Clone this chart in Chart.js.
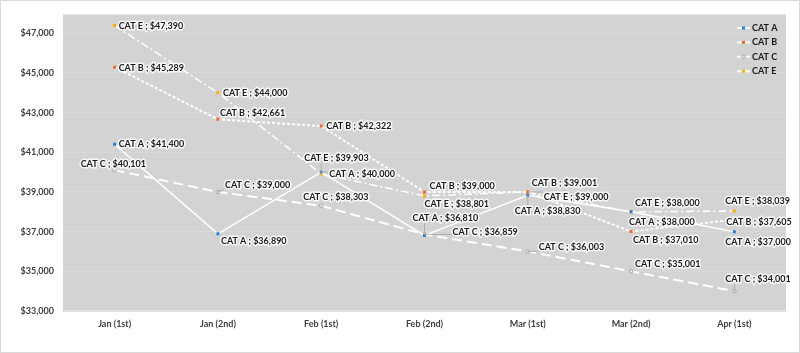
<!DOCTYPE html>
<html lang="en">
<head>
<meta charset="UTF-8">
<title>CAT trend</title>
<script src="https://cdn.jsdelivr.net/npm/chart.js"></script>
<style>
    html, body { margin: 0; padding: 0; background: #fff; }
    canvas { display: block; }
</style>
</head>
<body>
<canvas id="myChart" width="800" height="353"></canvas>
<script>
    // data
    const periods = ['Jan (1st)', 'Jan (2nd)', 'Feb (1st)', 'Feb (2nd)', 'Mar (1st)', 'Mar (2nd)', 'Apr (1st)'];
    const seriesNames = ['CAT A', 'CAT B', 'CAT C', 'CAT E'];
    const catA = [41400, 36890, 40000, 36810, 38830, 38000, 37000];
    const catB = [45289, 42661, 42322, 39000, 39001, 37010, 37605];
    const catC = [40101, 39000, 38303, 36859, 36003, 35001, 34001];
    const catE = [47390, 44000, 39903, 38801, 39000, 38000, 38039];
    const yTicks = [33000, 35000, 37000, 39000, 41000, 43000, 45000, 47000];

    // where each data label sits relative to its point: [dx to label left, dy to label middle]
    const labelOffsets = [
        [[4, 0], [3, 7], [8, 2], [-12, -17], [-13, 16], [-2, 10], [-9, 10]],
        [[4, 1], [2, -6], [5, 0], [5, -6], [4, -9], [2, 9], [-8, 2]],
        [[-34, -6], [7, -7], [-18, -9], [28, -2], [11, -4], [4, -7], [-9, -12]],
        [[4, 1], [5, 0], [-17, -16], [0, 8], [16, 5], [4, -9], [-9, -10]]
    ];

    const fmt = v => '$' + v.toLocaleString('en-US');
    const FONT = 'Lato, "Open Sans", sans-serif';

    const bgPlugin = {
        id: 'bg',
        beforeDraw(chart) {
            const ctx = chart.ctx, a = chart.chartArea;
            ctx.save();
            ctx.fillStyle = '#fff';
            ctx.fillRect(0, 0, chart.width, chart.height);
            ctx.strokeStyle = '#d9d9d9';
            ctx.lineWidth = 1;
            ctx.strokeRect(0.5, 0.5, chart.width - 1, chart.height - 1);
            ctx.fillStyle = '#d3d3d3';
            ctx.fillRect(a.left, a.top, a.right - a.left, a.bottom - a.top);
            ctx.restore();
        }
    };

    const labelPlugin = {
        id: 'pointLabels',
        afterDatasetsDraw(chart) {
            const ctx = chart.ctx;
            ctx.save();
            ctx.font = 'bold 9px ' + FONT;
            ctx.textBaseline = 'middle';
            const items = [];
            chart.data.datasets.forEach((ds, i) => {
                chart.getDatasetMeta(i).data.forEach((pt, j) => {
                    const text = ds.label + ' ; ' + fmt(ds.data[j]);
                    const w = ctx.measureText(text).width;
                    const [dx, dy] = labelOffsets[i][j];
                    items.push({ px: pt.x, py: pt.y, x: pt.x + dx, y: pt.y + dy, w, text });
                });
            });
            // leader lines
            ctx.strokeStyle = '#a6a6a6';
            ctx.lineWidth = 0.8;
            items.forEach(it => {
                const nx = Math.min(Math.max(it.px, it.x - 1), it.x + it.w + 1);
                const ny = Math.min(Math.max(it.py, it.y - 5), it.y + 5);
                if (Math.hypot(nx - it.px, ny - it.py) > 6) {
                    ctx.beginPath();
                    ctx.moveTo(it.px, it.py);
                    ctx.lineTo(nx, ny);
                    ctx.stroke();
                }
            });
            items.forEach(it => {
                ctx.lineJoin = 'round';
                ctx.lineWidth = 3;
                ctx.strokeStyle = 'rgba(255,255,255,0.85)';
                ctx.strokeText(it.text, it.x, it.y);
                ctx.fillStyle = '#1a1a1a';
                ctx.fillText(it.text, it.x, it.y);
            });
            ctx.restore();
        }
    };

    const legendPlugin = {
        id: 'sideLegend',
        afterDraw(chart) {
            const ctx = chart.ctx;
            ctx.save();
            ctx.font = 'bold 9px ' + FONT;
            ctx.textBaseline = 'middle';
            chart.data.datasets.forEach((ds, i) => {
                const y = 28 + i * 14.4;
                ctx.strokeStyle = '#fff';
                ctx.lineWidth = 2;
                ctx.setLineDash([]);
                ctx.beginPath();
                ctx.moveTo(737, y);
                ctx.lineTo(750, y);
                ctx.stroke();
                ctx.fillStyle = ds.pointBackgroundColor;
                ctx.strokeStyle = ds.pointBorderColor;
                ctx.lineWidth = ds.pointBorderWidth;
                ctx.beginPath();
                if (ds.pointStyle === 'circle') {
                    ctx.arc(743.5, y, 1.8, 0, Math.PI * 2);
                } else {
                    ctx.rect(742, y - 1.5, 3, 3);
                }
                ctx.fill();
                if (ds.pointBorderWidth) ctx.stroke();
                ctx.fillStyle = '#1a1a1a';
                ctx.fillText(ds.label, 752, y);
            });
            ctx.restore();
        }
    };

    const lineDs = (name, values, color, dash, width, style) => ({
        label: name,
        data: values,
        borderColor: '#ffffff',
        borderWidth: width,
        borderDash: dash,
        pointStyle: style,
        pointRadius: style === 'circle' ? 1.8 : 2.1,
        pointBackgroundColor: color,
        pointBorderColor: style === 'circle' ? '#9a9a9a' : color,
        pointBorderWidth: style === 'circle' ? 0.8 : 0,
        tension: 0,
        fill: false
    });

    const data = {
        labels: periods,
        datasets: [
            lineDs(seriesNames[0], catA, '#2a7bd6', [], 1.5, 'rect'),
            lineDs(seriesNames[1], catB, '#ee6a2c', [3, 2], 2, 'rect'),
            lineDs(seriesNames[2], catC, '#e4e4e4', [10, 5], 2, 'circle'),
            lineDs(seriesNames[3], catE, '#ffb000', [8, 3, 2, 3], 1.5, 'rect')
        ]
    };

    const config = {
        type: 'line',
        data: data,
        options: {
            responsive: false,
            animation: false,
            layout: { padding: { top: 13, right: 14, left: 0, bottom: 0 } },
            plugins: {
                legend: { display: false },
                tooltip: { enabled: false }
            },
            scales: {
                x: {
                    offset: true,
                    grid: { display: false, drawTicks: false },
                    border: { color: '#e4e4e4', width: 1.5 },
                    ticks: { color: '#404040', font: { family: FONT, size: 9, weight: 'bold' }, padding: 8 },
                    afterFit: s => { s.height = 42; }
                },
                y: {
                    min: 33000,
                    max: 47950,
                    grid: { color: '#d9d9d9', lineWidth: 1, drawTicks: false },
                    border: { display: false },
                    ticks: {
                        color: '#404040',
                        font: { family: FONT, size: 9, weight: 'bold' },
                        padding: 9,
                        callback: v => fmt(v)
                    },
                    afterBuildTicks: s => { s.ticks = yTicks.map(v => ({ value: v })); },
                    afterFit: s => { s.width = 63; }
                }
            }
        },
        plugins: [bgPlugin, labelPlugin, legendPlugin]
    };

    const myChart = new Chart(document.getElementById('myChart'), config);
</script>
</body>
</html>
